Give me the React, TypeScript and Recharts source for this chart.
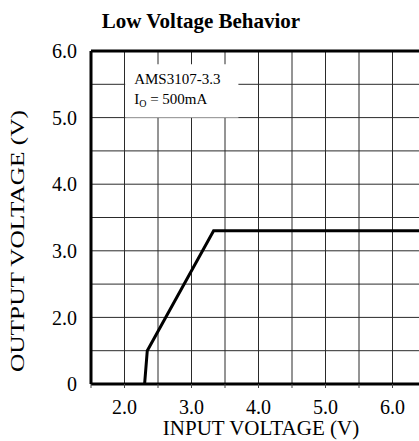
import { LineChart, Line, XAxis, YAxis, CartesianGrid, ReferenceArea, ReferenceLine } from 'recharts';

// values
const inputVoltage = [2.3, 2.34, 3.33, 6.5];
const outputVoltage = [0, 1.5, 3.3, 3.3];

const xTicks = [1.5, 2, 2.5, 3, 3.5, 4, 4.5, 5, 5.5, 6, 6.5];
// broken y axis: the bottom grid line sits at 1.0 on the scale but is labelled "0"
const yTicks = [1, 1.5, 2, 2.5, 3, 3.5, 4, 4.5, 5, 5.5, 6];

const serif = "'Liberation Serif', 'Times New Roman', serif";

const data = inputVoltage.map((vin, i) => ({
  vin,
  vout: Math.max(outputVoltage[i], 1), // anything below the break is drawn on the bottom line
}));

const fmtX = (v: number) => (Number.isInteger(v) ? v.toFixed(1) : '');
const fmtY = (v: number) => (v === 1 ? '0' : Number.isInteger(v) ? v.toFixed(1) : '');

const NoteLabel = ({ viewBox }: any) => {
  const { x, y } = viewBox;
  return (
    <g fontFamily={serif} fill="#000">
      <text x={x + 9} y={y + 20} fontSize={15}>AMS3107-3.3</text>
      <text x={x + 9} y={y + 40} fontSize={15}>
        <tspan>I</tspan>
        <tspan fontSize={10} dy={3}>O</tspan>
        <tspan dy={-3}> = 500mA</tspan>
      </text>
    </g>
  );
};

export default function App() {
  return (
    <div style={{ position: 'fixed', left: 0, top: 0, width: 419, height: 441, overflow: 'hidden', background: '#fff' }}>
      <LineChart width={440} height={441} data={data} margin={{ top: 51, right: 14, bottom: 0, left: 0 }}>
        <CartesianGrid stroke="#2a2a2a" strokeWidth={1} />
        <XAxis
          type="number"
          dataKey="vin"
          domain={[1.5, 6.5]}
          ticks={xTicks}
          interval={0}
          allowDataOverflow
          height={57}
          tickFormatter={fmtX}
          axisLine={{ stroke: '#000', strokeWidth: 3 }}
          tickLine={{ stroke: '#444' }}
          tickSize={4}
          tickMargin={12}
          tick={{ fill: '#000', fontSize: 20, fontFamily: serif }}
        />
        <YAxis
          type="number"
          domain={[1, 6]}
          ticks={yTicks}
          interval={0}
          allowDataOverflow
          width={91}
          tickFormatter={fmtY}
          axisLine={{ stroke: '#000', strokeWidth: 3 }}
          tickLine={false}
          tickSize={0}
          tickMargin={14}
          tick={{ fill: '#000', fontSize: 20, fontFamily: serif }}
        />
        <ReferenceLine y={6} stroke="#000" strokeWidth={3} />
        <ReferenceArea x1={2.01} x2={3.7} y1={5.0} y2={5.8} fill="#fff" fillOpacity={1} stroke="none" label={<NoteLabel />} />
        <Line
          type="linear"
          dataKey="vout"
          stroke="#000"
          strokeWidth={3}
          dot={false}
          isAnimationActive={false}
        />
      </LineChart>
      <svg width={419} height={441} style={{ position: 'absolute', left: 0, top: 0, pointerEvents: 'none' }}>
        <text x={201} y={28} textAnchor="middle" fontFamily={serif} fontWeight="bold" fontSize={21} fill="#000">
          Low Voltage Behavior
        </text>
        <text x={261} y={435} textAnchor="middle" fontFamily={serif} fontSize={21} fill="#000">
          INPUT VOLTAGE (V)
        </text>
        <text
          transform="translate(24 241) rotate(-90)"
          textAnchor="middle"
          fontFamily={serif}
          fontSize={19}
          fill="#000"
          textLength={262}
          lengthAdjust="spacingAndGlyphs"
        >
          OUTPUT VOLTAGE (V)
        </text>
      </svg>
    </div>
  );
}
